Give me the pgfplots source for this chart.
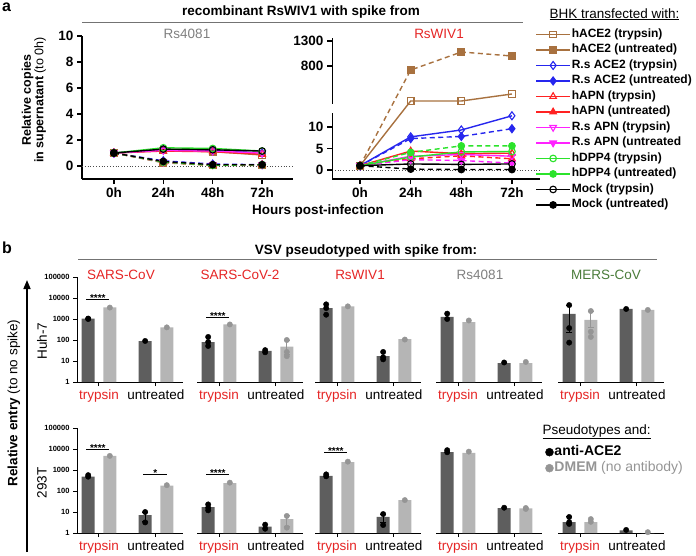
\documentclass[border=0pt]{standalone}
\usepackage{fontspec}
\setmainfont{Liberation Sans}
\setsansfont{Liberation Sans}
\usepackage{pgfplots}
\pgfplotsset{compat=1.18}
\usetikzlibrary{arrows.meta}

\definecolor{cbrown}{HTML}{A8713F}
\definecolor{cblue}{HTML}{2626EE}
\definecolor{cred}{HTML}{FF2222}
\definecolor{cmag}{HTML}{FF22FF}
\definecolor{cgreen}{HTML}{2BE32B}
\definecolor{tred}{HTML}{E52525}
\definecolor{tgray}{HTML}{7F7F7F}
\definecolor{tgreen}{HTML}{4A7C3A}
\definecolor{dkbar}{HTML}{5E5E5E}
\definecolor{ltbar}{HTML}{B5B5B5}
\definecolor{ltdot}{HTML}{959595}

\newcommand\fs[1]{\fontsize{#1}{#1}\selectfont}

\pgfplotsset{
  ln/.style={line width=1.4pt, mark size=3.3pt, every mark/.append style={solid, line width=1.1pt}},
  tr/.style={ln, solid},
  un/.style={ln, dash pattern=on 5pt off 3.5pt},
  s1/.style={tr, cbrown, mark=square},
  s2/.style={un, cbrown, mark=square*},
  s3/.style={tr, cblue, mark=diamond, mark size=4pt},
  s4/.style={un, cblue, mark=diamond*, mark size=4pt},
  s5/.style={tr, cred, mark=triangle, mark size=3.8pt},
  s6/.style={un, cred, mark=triangle*, mark size=3.8pt},
  s7/.style={tr, cmag, mark=triangle, mark size=3.8pt, every mark/.append style={rotate=180}},
  s8/.style={un, cmag, mark=triangle*, mark size=3.8pt, every mark/.append style={rotate=180}},
  s9/.style={tr, cgreen, mark=o},
  s10/.style={un, cgreen, mark=*},
  s11/.style={tr, black, mark=o},
  s12/.style={un, black, mark=*},
  % bar panels
  barax/.style={anchor=south west, scale only axis, width=106pt, height=105pt,
    ymin=1, ymax=100000, xmin=-0.386, xmax=1.474,
    axis x line*=bottom, axis line style={-, line width=1pt},
    xtick={0,1}, xticklabels={\textcolor{tred}{trypsin},untreated},
    tick align=outside, major tick length=4pt, tick style={black, line width=1pt},
    x tick label style={font=\fs{13.5}}, clip=false},
  firstp/.style={axis y line*=left, ytick={1,10,100,1000,10000,100000},
    yticklabels={1,10,100,1000,10000,100000},
    y tick label style={font=\bfseries\fs{7.5}}, minor tick style={draw=none}},
  otherp/.style={hide y axis},
  dk/.style={ybar, bar width=13pt, bar shift=0pt, fill=dkbar, draw=none},
  lt/.style={ybar, bar width=13pt, bar shift=0pt, fill=ltbar, draw=none},
  dkd/.style={only marks, mark=*, mark size=2.7pt, black},
  ltd/.style={only marks, mark=*, mark size=2.7pt, ltdot},
  eb/.style={error bars/.cd, y dir=both, y explicit,
    error bar style={line width=1pt, #1},
    error mark options={rotate=90, mark size=3pt, line width=1pt, #1}},
}

\begin{document}
\begin{tikzpicture}[x=1pt,y=1pt]
\useasboundingbox (0,0) rectangle (696,-555);

% ---------- panel a, Rs4081 ----------
\begin{axis}[at={(82pt,-179pt)}, anchor=south west, scale only axis,
  width=211pt, height=143pt,
  xmin=-15.5, xmax=87, ymin=-1, ymax=10,
  axis lines=left, axis line style={-, line width=1.3pt},
  xtick={0,24,48,72}, xticklabels={0h,24h,48h,72h},
  ytick={0,2,4,6,8,10}, yticklabels={0,2,4,6,8,10},
  tick align=outside, major tick length=5pt, tick style={black, line width=1.3pt},
  tick label style={font=\bfseries\fs{13.5}}]
\draw[dotted, line width=0.8pt, black!70] (axis cs:-15.5,0) -- (axis cs:87,0);
\addplot[s1] coordinates {(0,1) (24,1.2) (48,1.1) (72,0.85)};
\addplot[s2] coordinates {(0,1) (24,0.25) (48,0.05) (72,0.05)};
\addplot[s3] coordinates {(0,1) (24,1.25) (48,1.2) (72,1.0)};
\addplot[s4] coordinates {(0,1) (24,0.4) (48,0.15) (72,0.1)};
\addplot[s5] coordinates {(0,1) (24,1.15) (48,1.1) (72,0.9)};
\addplot[s6] coordinates {(0,1) (24,0.3) (48,0.05) (72,0.1)};
\addplot[s7] coordinates {(0,1) (24,1.2) (48,1.15) (72,1.0)};
\addplot[s8] coordinates {(0,1) (24,0.3) (48,0.1) (72,0.1)};
\addplot[s9] coordinates {(0,1) (24,1.4) (48,1.35) (72,1.15)};
\addplot[s10] coordinates {(0,1) (24,0.3) (48,0.05) (72,0.1)};
\addplot[s11] coordinates {(0,1) (24,1.3) (48,1.25) (72,1.15)};
\addplot[s12] coordinates {(0,1) (24,0.35) (48,0.1) (72,0.1)};
\end{axis}

% ---------- panel a, RsWIV1 (broken y axis) ----------
\begin{axis}[at={(332pt,-179pt)}, anchor=south west, scale only axis,
  width=208pt, height=141pt,
  xmin=-13.3, xmax=85.3,
  y coord trafo/.code={\pgfmathparse{(#1<13.5) ? #1 : 14.88+#1/86}},
  ymin=-2.1, ymax=1360,
  axis lines=left, axis line style={-, line width=1.3pt}, y axis line style={draw=none},
  xtick={0,24,48,72}, xticklabels={0h,24h,48h,72h},
  ytick={0,5,10,800,1300}, yticklabels={0,5,10,800,1300},
  tick align=outside, major tick length=5pt, tick style={black, line width=1.3pt},
  tick label style={font=\bfseries\fs{13.5}},
  legend image code/.code={\draw[mark repeat=2,mark phase=2,#1,solid] plot coordinates {(0pt,0pt) (17pt,0pt) (34pt,0pt)};},
  legend cell align=left,
  legend style={at={(0.977,1.0816)}, anchor=north west, draw=none, fill=none,
    font=\bfseries\fs{12}, inner sep=0pt, row sep=0pt,
    nodes={inner sep=1pt, text height=9.5pt, text depth=4pt},
    /tikz/every even column/.append style={column sep=2pt}}]
\draw[dotted, line width=0.8pt, black!70] (axis cs:-13.3,0) -- (axis cs:85.3,0);
\draw[line width=1.3pt] (rel axis cs:0,0) -- (rel axis cs:0,0.4605) -- ++(-5pt,0pt);
\draw[line width=1.3pt] (rel axis cs:0,1) -- (rel axis cs:0,0.5392) -- ++(-5pt,0pt);
\addplot[s1] coordinates {(0,1) (24,100) (48,100) (72,240)};
\addlegendentry{hACE2 (trypsin)}
\addplot[s2] coordinates {(0,1) (24,720) (48,1080) (72,1000)};
\addlegendentry{hACE2 (untreated)}
\addplot[s3] coordinates {(0,1) (24,7.7) (48,9.3) (72,12.6)};
\addlegendentry{R.s ACE2 (trypsin)}
\addplot[s4] coordinates {(0,1) (24,7.3) (48,7.8) (72,9.6)};
\addlegendentry{R.s ACE2 (untreated)}
\addplot[s5] coordinates {(0,1) (24,4.4) (48,3.8) (72,3.9)};
\addlegendentry{hAPN (trypsin)}
\addplot[s6] coordinates {(0,1) (24,2.6) (48,3.3) (72,2.6)};
\addlegendentry{hAPN (untreated)}
\addplot[s7] coordinates {(0,1) (24,3.2) (48,3.6) (72,3.2)};
\addlegendentry{R.s APN (trypsin)}
\addplot[s8] coordinates {(0,1) (24,2.4) (48,2.2) (72,1.6)};
\addlegendentry{R.s APN (untreated}
\addplot[s9] coordinates {(0,1) (24,3.0) (48,4.2) (72,4.3)};
\addlegendentry{hDPP4 (trypsin)}
\addplot[s10] coordinates {(0,1) (24,4.1) (48,5.6) (72,5.6)};
\addlegendentry{hDPP4 (untreated)}
\addplot[s11] coordinates {(0,1) (24,1.4) (48,1.3) (72,1.4)};
\addlegendentry{Mock (trypsin)}
\addplot[s12] coordinates {(0,1) (24,0.2) (48,0.1) (72,0.1)};
\addlegendentry{Mock (untreated)}
\end{axis}

% ---------- panel b, Huh-7 row ----------
\begin{axis}[ymode=log, barax, firstp, at={(77pt,-382pt)}]
\addplot[dk] coordinates {(-0.19,1050) (0.81,88)};
\addplot[lt] coordinates {(0.19,3600) (1.19,400)};
\addplot[dkd] coordinates {(-0.19,1050) (-0.19,1000) (0.81,90)};
\addplot[ltd] coordinates {(0.19,3500) (1.19,400)};
\draw[line width=0.7pt] (axis cs:-0.22,8900) -- (axis cs:0.18,8900);
\node[anchor=base, inner sep=0pt, font=\bfseries\fs{10}] at (axis cs:-0.02,6500) {****};
\end{axis}
\begin{axis}[ymode=log, barax, otherp, at={(197pt,-382pt)}]
\addplot[dk] coordinates {(-0.19,80) (0.81,30)};
\addplot[lt, eb=ltdot] coordinates {(0.19,560) (1.19,48) += (0,52) -= (0,28)};
\addplot[dkd] coordinates {(-0.19,140) (-0.19,80) (-0.19,52) (0.81,33) (0.81,26)};
\addplot[ltd] coordinates {(0.19,550) (1.19,100) (1.19,27) (1.19,17)};
\draw[line width=0.7pt] (axis cs:-0.22,1250) -- (axis cs:0.18,1250);
\node[anchor=base, inner sep=0pt, font=\bfseries\fs{10}] at (axis cs:-0.02,910) {****};
\end{axis}
\begin{axis}[ymode=log, barax, otherp, at={(315pt,-382pt)}]
\addplot[dk] coordinates {(-0.19,3300) (0.81,17)};
\addplot[lt] coordinates {(0.19,4000) (1.19,110)};
\addplot[dkd] coordinates {(-0.19,5000) (-0.19,3300) (-0.19,1600) (0.81,27) (0.81,12) (0.81,15)};
\addplot[ltd] coordinates {(0.19,4000) (1.19,105)};
\end{axis}
\begin{axis}[ymode=log, barax, otherp, at={(436pt,-382pt)}]
\addplot[dk] coordinates {(-0.19,1250) (0.81,8)};
\addplot[lt] coordinates {(0.19,720) (1.19,8)};
\addplot[dkd] coordinates {(-0.19,1800) (-0.19,1000) (0.81,8.5)};
\addplot[ltd] coordinates {(0.19,850) (1.19,9)};
\end{axis}
\begin{axis}[ymode=log, barax, otherp, at={(558pt,-382pt)}]
\addplot[dk, eb=black] coordinates {(-0.19,1750) += (0,2850) -= (0,1530) (0.81,3000)};
\addplot[lt, eb=ltdot] coordinates {(0.19,900) += (0,1500) -= (0,500) (1.19,2700)};
\addplot[dkd] coordinates {(-0.19,4600) (-0.19,370) (-0.19,75) (0.81,3000)};
\addplot[ltd] coordinates {(0.19,2400) (0.19,250) (0.19,140) (1.19,2700)};
\end{axis}

% ---------- panel b, 293T row ----------
\begin{axis}[ymode=log, barax, firstp, at={(77pt,-533pt)}]
\addplot[dk, eb=black] coordinates {(-0.19,480) (0.81,7.2) += (0,2.8) -= (0,3.5)};
\addplot[lt] coordinates {(0.19,4700) (1.19,180)};
\addplot[dkd] coordinates {(-0.19,570) (-0.19,480) (0.81,10) (0.81,3.2)};
\addplot[ltd] coordinates {(0.19,4700) (1.19,190)};
\draw[line width=0.7pt] (axis cs:-0.22,10000) -- (axis cs:0.18,10000);
\node[anchor=base, inner sep=0pt, font=\bfseries\fs{10}] at (axis cs:-0.02,7300) {****};
\draw[line width=0.7pt] (axis cs:0.78,650) -- (axis cs:1.2,650);
\node[anchor=base, inner sep=0pt, font=\bfseries\fs{10}] at (axis cs:0.99,470) {*};
\end{axis}
\begin{axis}[ymode=log, barax, otherp, at={(197pt,-533pt)}]
\addplot[dk] coordinates {(-0.19,17) (0.81,2.0)};
\addplot[lt, eb=ltdot] coordinates {(0.19,240) (1.19,4.6) += (0,2.2) -= (0,2.6)};
\addplot[dkd] coordinates {(-0.19,23) (-0.19,16) (-0.19,12) (0.81,2.5) (0.81,1.6)};
\addplot[ltd] coordinates {(0.19,250) (1.19,6.5) (1.19,1.8)};
\draw[line width=0.7pt] (axis cs:-0.22,650) -- (axis cs:0.18,650);
\node[anchor=base, inner sep=0pt, font=\bfseries\fs{10}] at (axis cs:-0.02,470) {****};
\end{axis}
\begin{axis}[ymode=log, barax, otherp, at={(315pt,-533pt)}]
\addplot[dk, eb=black] coordinates {(-0.19,520) (0.81,5.8) += (0,2.2) -= (0,2.8)};
\addplot[lt] coordinates {(0.19,2400) (1.19,37)};
\addplot[dkd] coordinates {(-0.19,620) (-0.19,500) (0.81,8) (0.81,2.4)};
\addplot[ltd] coordinates {(0.19,2500) (1.19,37)};
\draw[line width=0.7pt] (axis cs:-0.22,7200) -- (axis cs:0.18,7200);
\node[anchor=base, inner sep=0pt, font=\bfseries\fs{10}] at (axis cs:-0.02,5200) {****};
\end{axis}
\begin{axis}[ymode=log, barax, otherp, at={(436pt,-533pt)}]
\addplot[dk] coordinates {(-0.19,7200) (0.81,15.5)};
\addplot[lt] coordinates {(0.19,6500) (1.19,15)};
\addplot[dkd] coordinates {(-0.19,8800) (-0.19,7000) (0.81,16)};
\addplot[ltd] coordinates {(0.19,7500) (1.19,15.5) (1.19,14)};
\end{axis}
\begin{axis}[ymode=log, barax, otherp, at={(558pt,-533pt)},
  legend image code/.code={\draw[#1] plot coordinates {(4pt,0pt)};},
  legend cell align=left,
  legend style={at={(-0.12,0.848)}, anchor=north west, draw=none, fill=none,
    font=\fs{14}, inner sep=0pt, row sep=0pt,
    nodes={inner sep=1pt, text height=10.5pt, text depth=3.5pt},
    /tikz/every even column/.append style={column sep=0pt}}]
\addlegendimage{mark=*, mark size=4pt, black}
\addlegendentry{\textbf{anti-ACE2}}
\addlegendimage{mark=*, mark size=4pt, ltdot}
\addlegendentry{\textcolor{ltdot}{\textbf{DMEM} (no antibody)}}
\addplot[dk, eb=black] coordinates {(-0.19,3.3) += (0,2.5) -= (0,0.6) (0.81,1.35)};
\addplot[lt] coordinates {(0.19,3.3) (1.19,1.0)};
\addplot[dkd] coordinates {(-0.19,5.8) (-0.19,3.3) (-0.19,2.7) (0.81,1.4)};
\addplot[ltd] coordinates {(0.19,4.6) (0.19,3.4) (1.19,1.1)};
\end{axis}

% ---------- texts ----------
\node[anchor=base west, inner sep=0pt, font=\bfseries\fs{16}] at (2,-11.5) {a};
\node[anchor=base, font=\bfseries\fs{13.5}] at (301,-15) {recombinant RsWIV1 with spike from};
\draw[black!55, line width=0.8pt] (82,-22.5) -- (523,-22.5);
\node[anchor=base, font=\fs{13.5}, text=tgray] at (187,-38) {Rs4081};
\node[anchor=base, font=\fs{13.5}, text=tred] at (439,-38) {RsWIV1};
\node[anchor=base west, font=\fs{13.5}] at (546,-18) {\underline{BHK transfected with:}};
\node[rotate=90, align=center, font=\fs{12.5}] at (34,-100) {\textbf{Relative copies}\\\textbf{in supernatant} (to 0h)};
\node[anchor=base, font=\bfseries\fs{13.5}] at (318,-214) {Hours post-infection};

\node[anchor=base west, inner sep=0pt, font=\bfseries\fs{16}] at (2,-253) {b};
\node[anchor=base, font=\bfseries\fs{13.5}] at (366,-254) {VSV pseudotyped with spike from:};
\draw[black!55, line width=0.8pt] (78,-259) -- (657,-259);
\node[anchor=base, font=\fs{13.5}, text=tred] at (121,-279) {SARS-CoV};
\node[anchor=base, font=\fs{13.5}, text=tred] at (240,-279) {SARS-CoV-2};
\node[anchor=base, font=\fs{13.5}, text=tred] at (360,-279) {RsWIV1};
\node[anchor=base, font=\fs{13.5}, text=tgray] at (480,-279) {Rs4081};
\node[anchor=base, font=\fs{13.5}, text=tgreen] at (606,-279) {MERS-CoV};
\draw[line width=1.6pt, -{Triangle[length=9pt,width=7pt]}] (27,-552) -- (27,-280);
\node[rotate=90, font=\fs{13.5}] at (14,-403) {\textbf{Relative entry} (to no spike)};
\node[rotate=90, font=\fs{13.5}] at (42,-341) {Huh-7};
\node[rotate=90, font=\fs{13.5}] at (42,-483) {293T};
\node[anchor=base west, font=\fs{13.5}] at (539,-434) {\underline{Pseudotypes and:}};
\end{tikzpicture}
\end{document}
